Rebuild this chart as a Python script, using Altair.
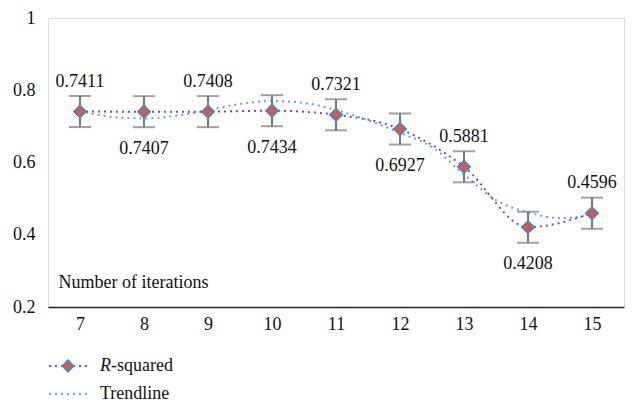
import altair as alt
import pandas as pd

iterations = [7, 8, 9, 10, 11, 12, 13, 14, 15]
r_squared = [0.7411, 0.7407, 0.7408, 0.7434, 0.7321, 0.6927, 0.5881, 0.4208, 0.4596]
error = [0.043, 0.043, 0.043, 0.043, 0.043, 0.043, 0.043, 0.043, 0.043]
label_pos = ["above", "below", "above", "below", "above", "below", "above", "below", "above"]

trend_x = [7, 7.5, 8, 8.5, 9, 9.5, 10, 10.5, 11, 11.5, 12, 12.5, 13, 13.5, 14, 14.5, 15]
trend_y = [0.7425, 0.726, 0.722, 0.7295, 0.745, 0.762, 0.770, 0.765, 0.745, 0.717,
           0.682, 0.643, 0.567, 0.496, 0.462, 0.446, 0.455]

FONT = "Liberation Serif"
FS = 18
PURPLE = "#7446D2"
LIGHTBLUE = "#5AA7E6"
ORANGE = "#E8572B"
BLUE = "#4F7FD6"

df = pd.DataFrame({
    "it": iterations,
    "r2": r_squared,
    "lo": [v - e for v, e in zip(r_squared, error)],
    "hi": [v + e for v, e in zip(r_squared, error)],
    "pos": label_pos,
    "label": [f"{v:.4f}" for v in r_squared],
})
tdf = pd.DataFrame({"it": trend_x, "trend": trend_y})

xscale = alt.Scale(domain=[6.5, 15.5], nice=False, zero=False)
yscale = alt.Scale(domain=[0.2, 1.0], nice=False, zero=False)

xaxis = alt.Axis(
    values=iterations, format="d", grid=False, ticks=False,
    domain=True, domainColor="#222222", domainWidth=1.5,
    labelFont=FONT, labelFontSize=FS, labelColor="#111111", labelPadding=8,
    title="Number of iterations", titleFont=FONT, titleFontSize=FS,
    titleFontWeight="normal", titleColor="#111111",
    titleAnchor="start", titleAlign="left", titleBaseline="middle",
    titleX=10, titleY=-25,
)
yaxis = alt.Axis(
    values=[0.2, 0.4, 0.6, 0.8, 1.0], grid=False, ticks=False, domain=False,
    labelFont=FONT, labelFontSize=FS, labelColor="#111111", labelPadding=13,
    labelExpr="datum.value == 1 ? '1' : format(datum.value, '.1f')",
    title=None,
)

base = alt.Chart(df)

trend = alt.Chart(tdf).mark_line(
    color=LIGHTBLUE, strokeWidth=2, strokeDash=[2, 4], interpolate="monotone"
).encode(
    x=alt.X("it:Q", scale=xscale, axis=xaxis),
    y=alt.Y("trend:Q", scale=yscale, axis=yaxis),
)

line = base.mark_line(
    color=PURPLE, strokeWidth=2, strokeDash=[2, 4], interpolate="monotone"
).encode(x=alt.X("it:Q", scale=xscale), y=alt.Y("r2:Q", scale=yscale))

err = base.mark_rule(color="#777777", strokeWidth=2).encode(
    x=alt.X("it:Q", scale=xscale), y=alt.Y("lo:Q", scale=yscale), y2="hi:Q"
)
cap_lo = base.mark_tick(color="#777777", thickness=2, size=22, orient="horizontal").encode(
    x=alt.X("it:Q", scale=xscale), y=alt.Y("lo:Q", scale=yscale)
)
cap_hi = base.mark_tick(color="#777777", thickness=2, size=22, orient="horizontal").encode(
    x=alt.X("it:Q", scale=xscale), y=alt.Y("hi:Q", scale=yscale)
)

pts = base.mark_point(
    shape="diamond", size=140, filled=True, fill=ORANGE, stroke=BLUE, strokeWidth=2, opacity=1
).encode(x=alt.X("it:Q", scale=xscale), y=alt.Y("r2:Q", scale=yscale))

lab_above = base.transform_filter(alt.datum.pos == "above").mark_text(
    font=FONT, fontSize=FS, color="#111111", dy=-30, baseline="middle"
).encode(x=alt.X("it:Q", scale=xscale), y=alt.Y("r2:Q", scale=yscale), text="label:N")
lab_below = base.transform_filter(alt.datum.pos == "below").mark_text(
    font=FONT, fontSize=FS, color="#111111", dy=37, baseline="middle"
).encode(x=alt.X("it:Q", scale=xscale), y=alt.Y("r2:Q", scale=yscale), text="label:N")

# legend
leg_df = pd.DataFrame({"k": [0]})
leg = alt.Chart(leg_df)
leg_line1 = leg.mark_rule(color=PURPLE, strokeWidth=2, strokeDash=[2, 4]).encode(
    x=alt.value(1), x2=alt.value(40), y=alt.value(348)
)
leg_pt = leg.mark_point(
    shape="diamond", size=120, filled=True, fill=ORANGE, stroke=BLUE, strokeWidth=2, opacity=1
).encode(x=alt.value(20), y=alt.value(348))
leg_line2 = leg.mark_rule(color=LIGHTBLUE, strokeWidth=2, strokeDash=[2, 4]).encode(
    x=alt.value(1), x2=alt.value(40), y=alt.value(376)
)
leg_t1a = leg.mark_text(font=FONT, fontSize=FS, fontStyle="italic", color="#111111",
                        align="left", baseline="middle").encode(
    x=alt.value(52), y=alt.value(348), text=alt.value("R"))
leg_t1b = leg.mark_text(font=FONT, fontSize=FS, color="#111111",
                        align="left", baseline="middle").encode(
    x=alt.value(63), y=alt.value(348), text=alt.value("-squared"))
leg_t2 = leg.mark_text(font=FONT, fontSize=FS, color="#111111",
                       align="left", baseline="middle").encode(
    x=alt.value(52), y=alt.value(376), text=alt.value("Trendline"))

chart = alt.layer(
    trend, line, err, cap_lo, cap_hi, pts, lab_above, lab_below,
    leg_line1, leg_pt, leg_line2, leg_t1a, leg_t1b, leg_t2,
).properties(
    width=576, height=289,
    autosize=alt.AutoSizeParams(type="none"),
    padding={"left": 40, "top": 10, "right": 4, "bottom": 99},
).configure_view(stroke=None).configure(background="white")

chart.save("out.html", embed_options={"renderer": "svg", "actions": False})
